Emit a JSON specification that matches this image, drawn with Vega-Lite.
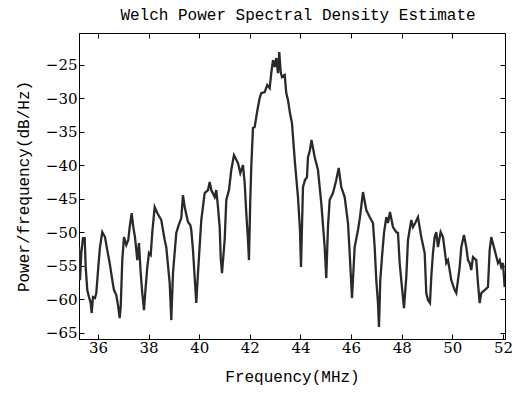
{
  "$schema": "https://vega.github.io/schema/vega-lite/v6.json",
  "width": 426,
  "height": 306,
  "autosize": {"type": "none"},
  "padding": {"left": 79, "top": 33, "right": 15, "bottom": 54},
  "background": "white",
  "title": {
    "text": "Welch Power Spectral Density Estimate",
    "font": "Liberation Mono",
    "fontSize": 16,
    "fontWeight": "normal",
    "color": "black",
    "anchor": "middle",
    "offset": 10,
    "dx": 6
  },
  "config": {
    "view": {"stroke": "black", "strokeWidth": 1},
    "axis": {
      "grid": false,
      "domainColor": "black",
      "tickColor": "black",
      "labelColor": "black",
      "titleColor": "black",
      "titleFont": "Liberation Mono",
      "titleFontSize": 16,
      "titleFontWeight": "normal",
      "tickSize": -5
    }
  },
  "data": {
    "values": [
      {"f": 35.249, "p": -52.20}, {"f": 35.289, "p": -57.12}, {"f": 35.340, "p": -53.09}, {"f": 35.407, "p": -50.86},
      {"f": 35.475, "p": -50.86}, {"f": 35.514, "p": -55.18}, {"f": 35.577, "p": -58.61}, {"f": 35.644, "p": -59.65},
      {"f": 35.712, "p": -60.54}, {"f": 35.751, "p": -62.03}, {"f": 35.802, "p": -59.65}, {"f": 35.881, "p": -59.80},
      {"f": 35.933, "p": -59.05}, {"f": 36.012, "p": -55.18}, {"f": 36.079, "p": -52.20}, {"f": 36.170, "p": -49.96},
      {"f": 36.277, "p": -50.71}, {"f": 36.367, "p": -52.65}, {"f": 36.462, "p": -54.58}, {"f": 36.565, "p": -57.12},
      {"f": 36.632, "p": -58.61}, {"f": 36.723, "p": -59.35}, {"f": 36.802, "p": -61.14}, {"f": 36.857, "p": -62.78},
      {"f": 36.897, "p": -61.14}, {"f": 36.960, "p": -54.14}, {"f": 37.027, "p": -50.71}, {"f": 37.118, "p": -51.90},
      {"f": 37.197, "p": -51.15}, {"f": 37.252, "p": -49.22}, {"f": 37.331, "p": -47.13}, {"f": 37.395, "p": -49.22},
      {"f": 37.462, "p": -50.71}, {"f": 37.553, "p": -54.14}, {"f": 37.620, "p": -51.60}, {"f": 37.687, "p": -56.07},
      {"f": 37.750, "p": -59.05}, {"f": 37.817, "p": -61.59}, {"f": 37.884, "p": -58.16}, {"f": 37.948, "p": -55.18},
      {"f": 38.015, "p": -53.09}, {"f": 38.082, "p": -53.39}, {"f": 38.153, "p": -49.66}, {"f": 38.240, "p": -46.24},
      {"f": 38.343, "p": -47.13}, {"f": 38.501, "p": -48.17}, {"f": 38.635, "p": -51.15}, {"f": 38.698, "p": -52.20},
      {"f": 38.833, "p": -57.56}, {"f": 38.896, "p": -63.08}, {"f": 38.963, "p": -56.07}, {"f": 39.093, "p": -50.11},
      {"f": 39.188, "p": -48.92}, {"f": 39.291, "p": -47.88}, {"f": 39.358, "p": -44.45}, {"f": 39.425, "p": -46.24},
      {"f": 39.556, "p": -48.47}, {"f": 39.646, "p": -48.92}, {"f": 39.686, "p": -49.66}, {"f": 39.753, "p": -52.65},
      {"f": 39.883, "p": -60.54}, {"f": 39.951, "p": -56.07}, {"f": 40.081, "p": -48.17}, {"f": 40.215, "p": -44.15},
      {"f": 40.346, "p": -43.70}, {"f": 40.413, "p": -42.51}, {"f": 40.476, "p": -43.70}, {"f": 40.610, "p": -44.75},
      {"f": 40.674, "p": -43.70}, {"f": 40.741, "p": -46.24}, {"f": 40.808, "p": -49.22}, {"f": 40.847, "p": -53.69},
      {"f": 40.899, "p": -56.07}, {"f": 41.005, "p": -51.15}, {"f": 41.069, "p": -45.19}, {"f": 41.175, "p": -43.70},
      {"f": 41.266, "p": -40.72}, {"f": 41.373, "p": -38.49}, {"f": 41.531, "p": -39.68}, {"f": 41.622, "p": -41.17},
      {"f": 41.728, "p": -39.98}, {"f": 41.796, "p": -42.66}, {"f": 41.859, "p": -47.13}, {"f": 41.926, "p": -51.15},
      {"f": 41.965, "p": -54.14}, {"f": 42.017, "p": -45.19}, {"f": 42.056, "p": -40.28}, {"f": 42.123, "p": -34.46},
      {"f": 42.190, "p": -34.31}, {"f": 42.254, "p": -32.82}, {"f": 42.321, "p": -31.33}, {"f": 42.388, "p": -29.99},
      {"f": 42.451, "p": -29.25}, {"f": 42.586, "p": -29.10}, {"f": 42.688, "p": -28.06}, {"f": 42.783, "p": -28.50},
      {"f": 42.846, "p": -26.27}, {"f": 42.914, "p": -24.33}, {"f": 42.981, "p": -25.37}, {"f": 43.044, "p": -24.03},
      {"f": 43.111, "p": -26.27}, {"f": 43.162, "p": -23.14}, {"f": 43.218, "p": -26.12}, {"f": 43.269, "p": -26.86},
      {"f": 43.376, "p": -26.56}, {"f": 43.439, "p": -29.25}, {"f": 43.506, "p": -30.29}, {"f": 43.585, "p": -32.23},
      {"f": 43.664, "p": -33.72}, {"f": 43.783, "p": -39.68}, {"f": 43.901, "p": -44.75}, {"f": 43.980, "p": -49.66},
      {"f": 44.020, "p": -55.18}, {"f": 44.099, "p": -43.26}, {"f": 44.178, "p": -42.21}, {"f": 44.257, "p": -41.77},
      {"f": 44.296, "p": -38.79}, {"f": 44.375, "p": -37.74}, {"f": 44.435, "p": -36.25}, {"f": 44.561, "p": -38.79},
      {"f": 44.691, "p": -40.72}, {"f": 44.822, "p": -45.64}, {"f": 44.956, "p": -52.20}, {"f": 45.019, "p": -56.82},
      {"f": 45.086, "p": -49.22}, {"f": 45.153, "p": -45.19}, {"f": 45.284, "p": -44.15}, {"f": 45.414, "p": -42.21},
      {"f": 45.509, "p": -40.42}, {"f": 45.612, "p": -43.26}, {"f": 45.746, "p": -44.75}, {"f": 45.877, "p": -48.62},
      {"f": 45.944, "p": -53.09}, {"f": 46.035, "p": -59.80}, {"f": 46.141, "p": -52.20}, {"f": 46.272, "p": -49.66},
      {"f": 46.351, "p": -47.73}, {"f": 46.469, "p": -44.00}, {"f": 46.600, "p": -46.68}, {"f": 46.734, "p": -47.73},
      {"f": 46.864, "p": -48.62}, {"f": 46.931, "p": -52.20}, {"f": 46.995, "p": -57.12}, {"f": 47.062, "p": -60.54},
      {"f": 47.101, "p": -64.12}, {"f": 47.153, "p": -57.12}, {"f": 47.220, "p": -53.69}, {"f": 47.299, "p": -50.11},
      {"f": 47.390, "p": -47.73}, {"f": 47.457, "p": -48.62}, {"f": 47.536, "p": -46.98}, {"f": 47.654, "p": -49.22},
      {"f": 47.785, "p": -49.96}, {"f": 47.852, "p": -50.11}, {"f": 47.919, "p": -54.58}, {"f": 47.982, "p": -57.12},
      {"f": 48.089, "p": -61.29}, {"f": 48.180, "p": -56.67}, {"f": 48.247, "p": -51.15}, {"f": 48.377, "p": -48.17},
      {"f": 48.444, "p": -49.22}, {"f": 48.535, "p": -48.62}, {"f": 48.642, "p": -47.73}, {"f": 48.772, "p": -50.71},
      {"f": 48.907, "p": -53.09}, {"f": 48.970, "p": -59.05}, {"f": 49.037, "p": -60.10}, {"f": 49.116, "p": -60.54},
      {"f": 49.167, "p": -56.67}, {"f": 49.234, "p": -53.09}, {"f": 49.301, "p": -50.71}, {"f": 49.365, "p": -49.96},
      {"f": 49.432, "p": -52.20}, {"f": 49.538, "p": -49.96}, {"f": 49.630, "p": -50.71}, {"f": 49.697, "p": -52.65},
      {"f": 49.760, "p": -54.58}, {"f": 49.827, "p": -54.14}, {"f": 49.894, "p": -55.63}, {"f": 49.957, "p": -57.12},
      {"f": 50.092, "p": -58.61}, {"f": 50.155, "p": -59.05}, {"f": 50.289, "p": -55.18}, {"f": 50.353, "p": -52.20},
      {"f": 50.459, "p": -50.41}, {"f": 50.550, "p": -52.20}, {"f": 50.617, "p": -54.14}, {"f": 50.684, "p": -54.58},
      {"f": 50.747, "p": -55.63}, {"f": 50.815, "p": -53.69}, {"f": 50.945, "p": -54.14}, {"f": 51.012, "p": -57.56},
      {"f": 51.079, "p": -60.54}, {"f": 51.143, "p": -59.05}, {"f": 51.277, "p": -58.61}, {"f": 51.407, "p": -58.16},
      {"f": 51.474, "p": -52.65}, {"f": 51.538, "p": -50.71}, {"f": 51.672, "p": -52.65}, {"f": 51.802, "p": -54.58},
      {"f": 51.869, "p": -54.14}, {"f": 51.932, "p": -55.18}, {"f": 52.000, "p": -54.58}, {"f": 52.067, "p": -58.16}
    ]
  },
  "layer": [
    {
      "mark": {"type": "line", "color": "#2a2a2a", "strokeWidth": 2.3, "clip": true},
      "encoding": {
        "x": {
          "field": "f", "type": "quantitative",
          "scale": {"domain": [35.25, 52.08], "nice": false, "zero": false},
          "axis": {"values": [36, 38, 40, 42, 44, 46, 48, 50, 52], "title": "Frequency(MHz)", "labelFont": "DejaVu Serif", "labelFontSize": 15, "labelPadding": 6, "titlePadding": 13, "labelFlush": false}
        },
        "y": {
          "field": "p", "type": "quantitative",
          "scale": {"domain": [-65.9, -20.3], "nice": false, "zero": false},
          "axis": {"values": [-65, -60, -55, -50, -45, -40, -35, -30, -25], "title": "Power/frequency(dB/Hz)", "labelFont": "DejaVu Serif", "labelFontSize": 15, "labelPadding": 7, "titlePadding": 14, "labelFlush": false}
        }
      }
    },
    {
      "mark": {"type": "line", "opacity": 0},
      "encoding": {
        "x": {
          "field": "f", "type": "quantitative",
          "axis": {"orient": "top", "values": [36, 38, 40, 42, 44, 46, 48, 50], "labels": false, "title": null, "domain": false}
        },
        "y": {
          "field": "p", "type": "quantitative",
          "axis": {"orient": "right", "values": [-65, -60, -55, -50, -45, -40, -35, -30, -25], "labels": false, "title": null, "domain": false}
        }
      }
    }
  ],
  "resolve": {"axis": {"x": "independent", "y": "independent"}}
}
